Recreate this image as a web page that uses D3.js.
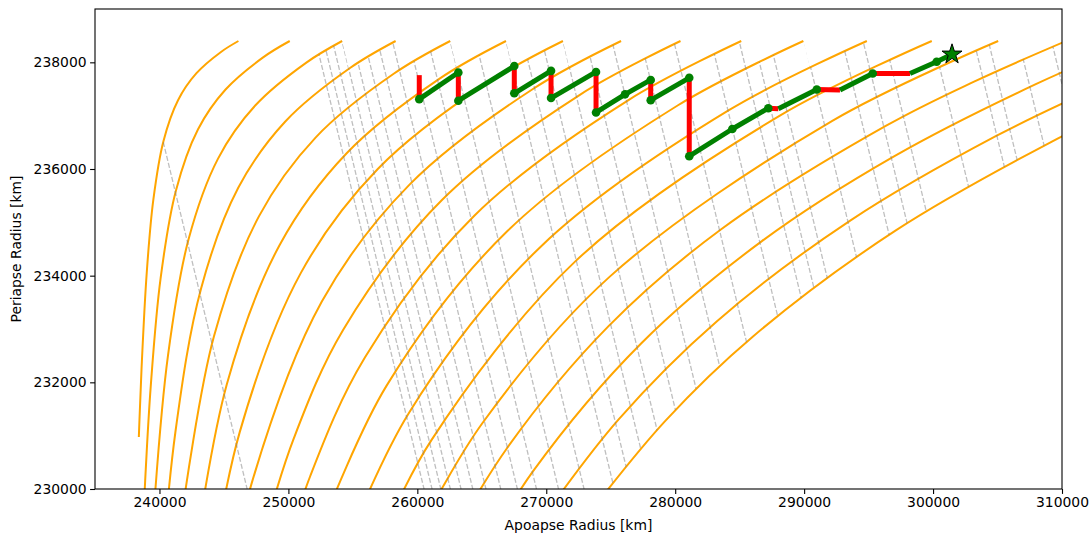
<!DOCTYPE html>
<html>
<head>
<meta charset="utf-8">
<script src="https://cdn.jsdelivr.net/npm/d3@7"></script>
<style>
  body { margin: 0; background: #fff; }
  svg { display: block; font-family: "DejaVu Sans", sans-serif; }
</style>
</head>
<body>
<svg id="chart"></svg>
<script>
// Orange contours (apoapse, periapse) in km, one array per contour, bottom -> top
const curveRa = [
  [238400, 238449, 238607, 239014, 239523, 240308, 241440, 242854, 244771, 246125],
  [238628, 238891, 239324, 240090, 241274, 242983, 245126, 248039, 250105],
  [239635, 240660, 242247, 244543, 247428, 251365, 254167],
  [239948, 241234, 243228, 246120, 249761, 254749, 258316],
  [241813, 244217, 247712, 252124, 258194, 262550],
  [242394, 245214, 249322, 254520, 261700, 266875],
  [243518, 246220, 250947, 256950, 265270, 271292],
  [244844, 247234, 252592, 259413, 268905, 275802],
  [248255, 250426, 254253, 261909, 272607, 280412],
  [249286, 251689, 255932, 264438, 276377, 285123],
  [252965, 257629, 267007, 280219, 289939],
  [254252, 259346, 269609, 284132, 294865],
  [257283, 261080, 272250, 288120, 299900],
  [260725, 265054, 274926, 292185, 305051],
  [262339, 266994, 274831, 283541, 296329, 303180, 310324],
  [263970, 268965, 277375, 286750, 296971, 307969, 315720],
  [269841, 275614, 283196, 293574, 304861, 312863],
  [272965, 279233, 286034, 297141, 309255, 313506]
];
const curveRp = [
  [230976, 231295, 232241, 234060, 235421, 236522, 237290, 237792, 238195, 238400],
  [228776, 230155, 231930, 233954, 235594, 236741, 237490, 238093, 238400],
  [229829, 232502, 234673, 236195, 237190, 237991, 238400],
  [227754, 231064, 233760, 235652, 236891, 237889, 238400],
  [229641, 232853, 235112, 236594, 237790, 238400],
  [228230, 231954, 234576, 236296, 237690, 238400],
  [227770, 231062, 234043, 236004, 237590, 238400],
  [227496, 230176, 233514, 235711, 237491, 238400],
  [229297, 230954, 232987, 235419, 237391, 238400],
  [228424, 230239, 232464, 235128, 237293, 238400],
  [229527, 231943, 234841, 237195, 238400],
  [228822, 231426, 234553, 237098, 238400],
  [229129, 230912, 234268, 237000, 238400],
  [229489, 231238, 233982, 236903, 238400],
  [228925, 230778, 233053, 234865, 236807, 237638, 238400],
  [228364, 230329, 232733, 234652, 236237, 237591, 238400],
  [229491, 231306, 233138, 235032, 236615, 237545],
  [229429, 231277, 232860, 234853, 236519, 237020]
];

// Gray dashed resonance lines: apoapse + periapse sum (km)
const resLabel = ['1:1', '24:23', '23:22', '22:21', '21:20', '20:19', '19:18', '18:17', '17:16', '16:15',
  '15:14', '14:13', '13:12', '12:11', '23:21', '11:10', '21:19', '10:9', '19:17', '9:8', '17:15', '8:7',
  '23:20', '15:13', '22:19', '7:6', '20:17', '13:11', '19:16', '6:5', '23:19', '17:14', '11:9', '16:13'];
const resSum = [476800, 490520, 491140, 491820, 492560, 493390, 494300, 495320, 496470, 497760,
  499240, 500950, 502930, 505280, 506610, 508080, 509700, 511500, 513500, 515750, 518290, 521190,
  523360, 524530, 525750, 528410, 531360, 532970, 534680, 538420, 541570, 542690, 545050, 547590];

// Tour: burns (red) and flybys (green)
const tourRa = [260150, 260150, 263180, 263180, 267520, 267520, 270370, 270370, 273860, 273860, 276110, 278100,
  278100, 281090, 281090, 284430, 287220, 288000, 290980, 292780, 295320, 298210, 300280, 301470];
const tourRp = [237760, 237310, 237810, 237280, 237930, 237420, 237840, 237330, 237820, 237060, 237400, 237670,
  237290, 237710, 236240, 236750, 237140, 237130, 237490, 237480, 237790, 237790, 238010, 238150];
const tourLeg = ['', 'burn', 'flyby', 'burn', 'flyby', 'burn', 'flyby', 'burn', 'flyby', 'burn', 'flyby', 'flyby',
  'burn', 'flyby', 'burn', 'flyby', 'flyby', 'burn', 'flyby', 'burn', 'flyby', 'burn', 'flyby', 'flyby'];
const tourDot = [0, 1, 1, 1, 1, 1, 1, 1, 1, 1, 1, 1, 1, 1, 1, 1, 1, 0, 1, 0, 1, 0, 1, 0];

const xTicks = [240000, 250000, 260000, 270000, 280000, 290000, 300000, 310000];
const yTicks = [230000, 232000, 234000, 236000, 238000];

const W = 1092, H = 536;
const x = d3.scaleLinear().domain([235000, 310000]).range([95, 1062]);
const y = d3.scaleLinear().domain([230000, 239000]).range([489, 9]);

const svg = d3.select('#chart').attr('width', W).attr('height', H);
svg.append('rect').attr('width', W).attr('height', H).attr('fill', '#fff');

const defs = svg.append('defs');
defs.append('clipPath').attr('id', 'plot-clip').append('rect')
    .attr('x', x(235000)).attr('y', y(239000))
    .attr('width', x(310000) - x(235000)).attr('height', y(230000) - y(239000));

const curves = curveRa.map((ras, i) => ras.map((ra, j) => [ra, curveRp[i][j]]));
const line = d3.line().x(d => x(d[0])).y(d => y(d[1])).curve(d3.curveCatmullRom.alpha(0.5));
const lineTo = d => `L${x(d[0])},${y(d[1])}`;
const floor = 229000;

// region below each contour (a resonance line starts on the first contour it meets)
const under = defs.append('clipPath').attr('id', 'under-curves');
curves.forEach(c => {
    const bot = c[0], top = c[c.length - 1];
    const extra = top[0] >= 310000
        ? [[330000, top[1]], [330000, floor]]
        : [[top[0] + top[1] - floor, floor]];
    extra.push([bot[0] + bot[1] - floor, floor]);
    under.append('path').attr('d', line(c) + extra.map(lineTo).join('') + 'Z');
});

// region above the last contour (resonance lines stop there)
const last = curves[curves.length - 1];
defs.append('clipPath').attr('id', 'above-last').append('path')
    .attr('d', line(last) + [[330000, last[last.length - 1][1]], [330000, 241000], [200000, 241000],
        [200000, floor], [last[0][0], floor]].map(lineTo).join('') + 'Z');

// Contours
svg.append('g').attr('clip-path', 'url(#plot-clip)')
    .selectAll('path').data(curves).join('path')
    .attr('d', line)
    .attr('fill', 'none')
    .attr('stroke', '#ffa500')
    .attr('stroke-width', 2);

// Resonance lines
svg.append('g').attr('clip-path', 'url(#plot-clip)')
    .append('g').attr('clip-path', 'url(#above-last)')
    .append('g').attr('clip-path', 'url(#under-curves)')
    .selectAll('line').data(resSum).join('line')
    .attr('x1', s => x(s - 239000)).attr('y1', y(239000))
    .attr('x2', s => x(s - floor)).attr('y2', y(floor))
    .attr('stroke', '#808080')
    .attr('stroke-opacity', 0.5)
    .attr('stroke-width', 1.3)
    .attr('stroke-dasharray', '5,2.2');

// Tour legs grouped into runs
const tour = tourRa.map((ra, i) => [ra, tourRp[i]]);
const runs = [];
for (let i = 1; i < tour.length; i++) {
    const prev = runs[runs.length - 1];
    if (prev && prev.type === tourLeg[i]) prev.pts.push(tour[i]);
    else runs.push({ type: tourLeg[i], pts: [tour[i - 1], tour[i]] });
}
const straight = d3.line().x(d => x(d[0])).y(d => y(d[1]));
const tourG = svg.append('g').attr('clip-path', 'url(#plot-clip)');
['burn', 'flyby'].forEach(type => {
    tourG.append('g').selectAll('path').data(runs.filter(r => r.type === type)).join('path')
        .attr('d', r => straight(r.pts))
        .attr('fill', 'none')
        .attr('stroke', type === 'burn' ? '#ff0000' : '#008000')
        .attr('stroke-width', 5)
        .attr('stroke-linejoin', 'round');
});
tourG.append('g').selectAll('circle').data(tour.filter((d, i) => tourDot[i])).join('circle')
    .attr('cx', d => x(d[0])).attr('cy', d => y(d[1]))
    .attr('r', 4.3)
    .attr('fill', '#008000');

const end = tour[tour.length - 1];
svg.append('path')
    .attr('d', d3.symbol(d3.symbolStar, 124)())
    .attr('transform', `translate(${x(end[0])},${y(end[1])})`)
    .attr('fill', '#008000')
    .attr('stroke', '#000')
    .attr('stroke-width', 1);

// Frame
svg.append('rect')
    .attr('x', x(235000)).attr('y', y(239000))
    .attr('width', x(310000) - x(235000)).attr('height', y(230000) - y(239000))
    .attr('fill', 'none').attr('stroke', '#000').attr('stroke-width', 1.1);

// Axes
const styleAxis = g => {
    g.select('.domain').remove();
    g.attr('font-family', '"DejaVu Sans", sans-serif').attr('font-size', 13.9).style('color', '#000');
    g.selectAll('.tick line').attr('stroke-width', 1.1);
};
svg.append('g')
    .attr('transform', `translate(0,${y(230000)})`)
    .call(d3.axisBottom(x).tickValues(xTicks).tickFormat(d3.format('d')).tickSize(4.9).tickPadding(3.5))
    .call(styleAxis);
svg.append('g')
    .attr('transform', `translate(${x(235000)},0)`)
    .call(d3.axisLeft(y).tickValues(yTicks).tickFormat(d3.format('d')).tickSize(4.9).tickPadding(3.5))
    .call(styleAxis);

svg.append('text')
    .attr('x', (x(235000) + x(310000)) / 2).attr('y', 530)
    .attr('text-anchor', 'middle').attr('font-size', 13.9).attr('fill', '#000')
    .text('Apoapse Radius [km]');
svg.append('text')
    .attr('transform', `translate(21,${(y(230000) + y(239000)) / 2}) rotate(-90)`)
    .attr('text-anchor', 'middle').attr('font-size', 13.9).attr('fill', '#000')
    .text('Periapse Radius [km]');
</script>
</body>
</html>
